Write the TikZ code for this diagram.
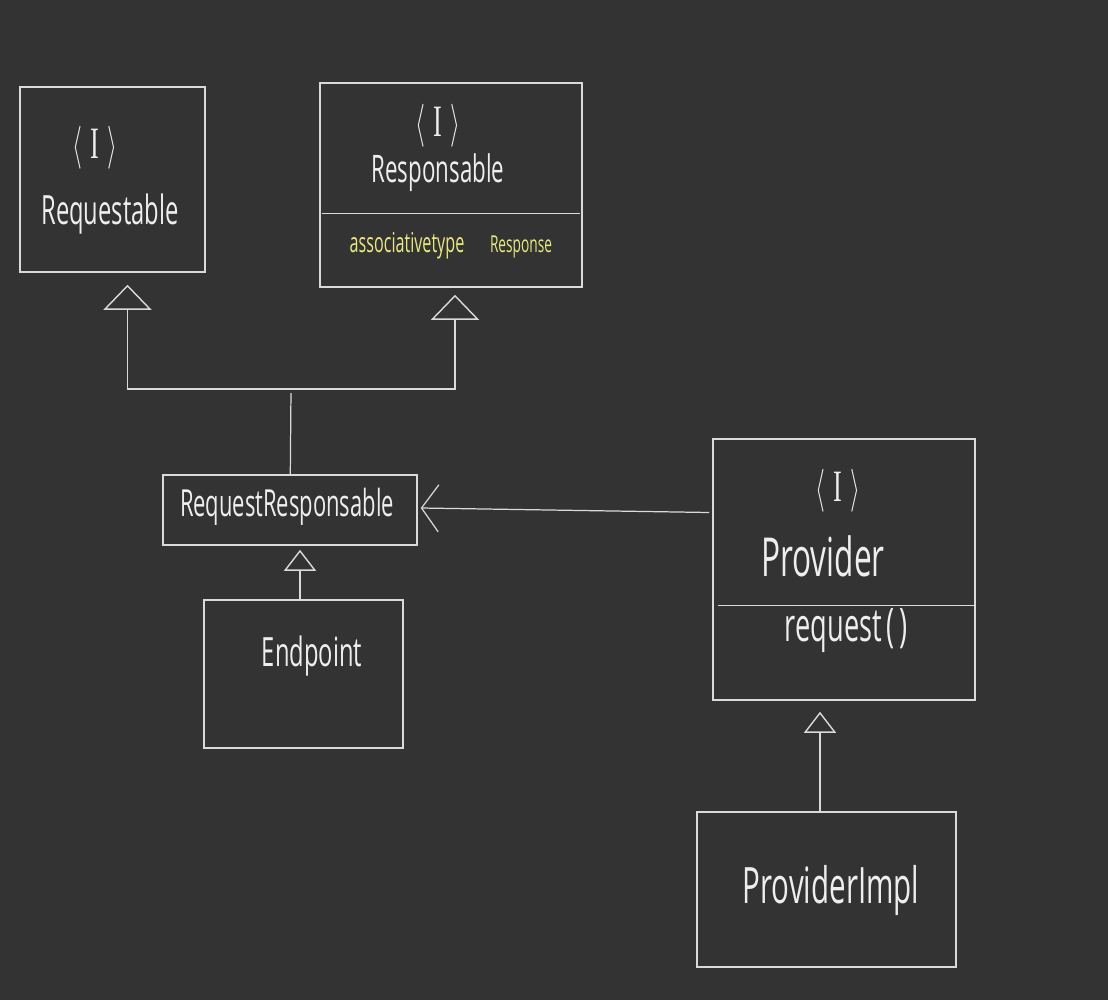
\documentclass[tikz,border=0pt]{standalone}
\usepackage{graphicx}
\usepackage{fontspec}
\setmainfont{Open Sans}
\newfontfamily\markfont{Liberation Serif}
\usepackage{tikz}
\usetikzlibrary{arrows.meta}
\usetikzlibrary{positioning}
\definecolor{bgdark}{HTML}{333333}
\definecolor{linegray}{HTML}{DADADA}
\definecolor{chalk}{HTML}{EEEEEE}
\definecolor{chalkyellow}{HTML}{E8E880}
\newcommand{\tallhand}[1]{\scalebox{1}[1.7]{#1}}
\newcommand{\ifacemark}{$\langle$\hspace{0.3em}{\markfont I}\hspace{0.3em}$\rangle$}
\tikzset{
    x=0.02cm, y=-0.02cm, % one unit is one pixel of the sketch
    box/.style={ % class boxes
        draw=linegray,
        line width=0.9pt,
        inner sep=0pt
    },
    hand/.style={text=chalk, inner sep=0pt},
    attr/.style={text=chalkyellow, inner sep=0pt},
    every path/.style={line width=0.7pt},
    inherits/.style={ % hollow triangle, generalisation
        draw=linegray,
        -{Triangle[open, width=0.96cm, length=0.5cm, line width=0.8pt]}
    },
    inheritsmall/.style={
        draw=linegray,
        -{Triangle[open, width=0.64cm, length=0.42cm, line width=0.8pt]}
    },
    uses/.style={ % open arrow, association
        draw=linegray,
        -{Straight Barb[length=0.34cm, width=0.94cm, line width=0.7pt]}
    }
}
\begin{document}
\begin{tikzpicture}
    \fill[bgdark] (0,0) rectangle (1108,1000);
    \useasboundingbox (0,0) rectangle (1108,1000);

    % boxes
    \node[box, minimum width=3.7cm, minimum height=3.7cm] (req) at (112.5,179.5) {};
    \node[box, minimum width=5.24cm, minimum height=4.08cm] (resp) at (451,185) {};
    \node[box, minimum width=5.08cm, minimum height=1.4cm] (rr) at (290,510) {};
    \node[box, minimum width=3.98cm, minimum height=2.96cm] (ep) at (303.5,674) {};
    \node[box, minimum width=5.24cm, minimum height=5.22cm] (prov) at (844,569.5) {};
    \node[box, minimum width=5.18cm, minimum height=3.1cm] (impl) at (826.5,889.5) {};

    \draw[linegray] ([shift={(3,131)}]resp.north west) -- ([shift={(-3,131)}]resp.north east);
    \draw[linegray] ([shift={(6,167)}]prov.north west) -- ([shift={(0,167)}]prov.north east);

    % texts
    \node[hand, font=\fontsize{15}{18}\selectfont] (reqI) at (95,148) {\tallhand{\ifacemark}};
    \node[hand, font=\fontsize{13.5}{16}\selectfont] (reqname) at (110,214) {\tallhand{Requestable}};
    \node[hand, font=\fontsize{15}{18}\selectfont] (respI) at (438,126) {\tallhand{\ifacemark}};
    \node[hand, font=\fontsize{12.7}{15}\selectfont] (respname) at (438,173) {\tallhand{Responsable}};
    \node[attr, font=\fontsize{9.2}{11}\selectfont] (assoc) at (407,246) {\tallhand{associativetype}};
    \node[attr, font=\fontsize{7.8}{10}\selectfont] (resptype) at (521,247) {\tallhand{Response}};
    \node[hand, font=\fontsize{12.5}{15}\selectfont] (rrname) at (287,507) {\tallhand{RequestResponsable}};
    \node[hand, font=\fontsize{13.5}{16}\selectfont] (epname) at (312,656) {\tallhand{Endpoint}};
    \node[hand, font=\fontsize{15}{18}\selectfont] (provI) at (838,491) {\tallhand{\ifacemark}};
    \node[hand, font=\fontsize{18}{21}\selectfont] (provname) at (823,556) {\tallhand{Provider}};
    \node[hand, font=\fontsize{15.5}{18}\selectfont] (provop) at (846,631) {\tallhand{request\,(\,)}};
    \node[hand, font=\fontsize{16.8}{20}\selectfont] (implname) at (831,890) {\tallhand{ProviderImpl}};

    % connectors
    \coordinate (fork) at (291,389);
    \draw[linegray, shorten >=0.08cm] (rr) -- (fork);
    \draw[inherits] (fork) -| ([shift={(15,12)}]req.south);
    \draw[inherits] (fork) -| ([shift={(4,7)}]resp.south);
    \draw[inheritsmall] ([shift={(-3.5,0)}]ep.north) -- ([shift={(10,4)}]rr.south);
    \draw[inheritsmall] ([shift={(-6.5,0)}]impl.north) -- ([shift={(-24,11)}]prov.south);
    \draw[uses] ([shift={(-3,-57)}]prov.west) -- ([shift={(3,-2)}]rr.east);
\end{tikzpicture}
\end{document}
